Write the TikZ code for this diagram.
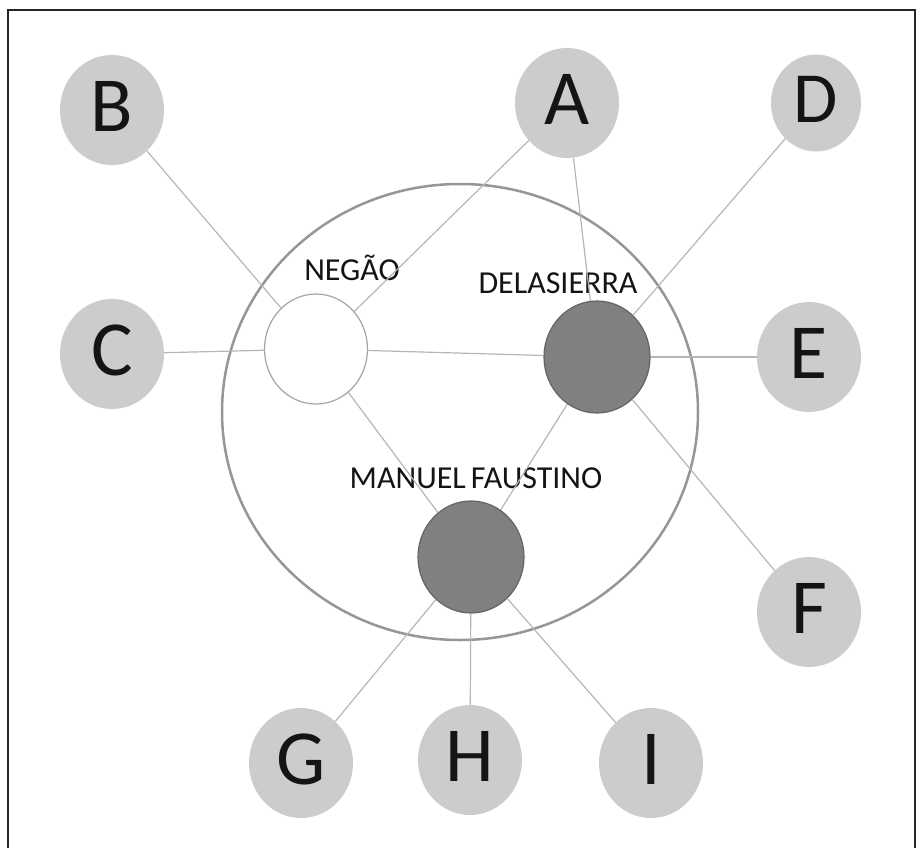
\documentclass[tikz,border=0pt]{standalone}
\usepackage{fontspec}
\setmainfont{Carlito}
\usetikzlibrary{shapes.geometric}
\definecolor{outerfill}{RGB}{204,204,204}
\definecolor{darkfill}{RGB}{128,128,128}
\definecolor{darkline}{RGB}{100,100,100}
\definecolor{ringline}{RGB}{150,150,150}
\definecolor{linkline}{RGB}{182,182,182}
\definecolor{whiteline}{RGB}{165,165,165}
\definecolor{txt}{RGB}{20,20,20}
\begin{document}
\begin{tikzpicture}[x=1pt,y=-1pt,
  outer/.style={ellipse, fill=outerfill, inner sep=0pt, minimum width=104pt, minimum height=110pt,
    text depth=8pt, text=txt, font=\fontsize{78}{80}\selectfont},
  central/.style={ellipse, fill=darkfill, draw=darkline, line width=1.2pt, inner sep=0pt,
    minimum width=106pt, minimum height=112pt},
  hub/.style={ellipse, fill=white, draw=whiteline, line width=1.2pt, inner sep=0pt,
    minimum width=103pt, minimum height=110pt},
  ring/.style={ellipse, draw=ringline, line width=2.5pt, inner sep=0pt,
    minimum width=476pt, minimum height=456pt},
  lbl/.style={font=\fontsize{32}{34}\selectfont, inner sep=0pt, text=txt},
  link/.style={draw=linkline, line width=1.2pt},
  frame/.style={draw=black!85, line width=1.5pt}]
\useasboundingbox (0,0) rectangle (921,848);
\draw[frame] (8,870) -- (8,10) -- (915,10) -- (915,870);
\node[ring] (ring) at (460,412) {};
\node[outer] (A) at (567,103) {A};
\node[outer] (B) at (112,110) {B};
\node[outer, minimum width=90pt, minimum height=97pt, font=\fontsize{72}{74}\selectfont] (D) at (816,103) {D};
\node[outer] (C) at (112,354) {C};
\node[outer] (E) at (809,357) {E};
\node[outer] (F) at (809,612) {F};
\node[outer] (G) at (301,763) {G};
\node[outer] (H) at (470,760) {H};
\node[outer] (I) at (651,763) {I};
\node[hub] (neg) at (316,349) {};
\node[central] (del) at (597,357) {};
\node[central] (man) at (471,557) {};
\node[lbl] (negl) at (352,268) {NEGÃO};
\node[lbl] (dell) at (558,283) {DELASIERRA};
\node[lbl] (manl) at (476,478) {MANUEL\hspace{5pt}FAUSTINO};
\draw[link] (B) -- (neg);
\draw[link] (A) -- (neg);
\draw[link] (C) -- (neg);
\draw[link] (neg) -- (del);
\draw[link] (neg) -- (man);
\draw[link] (A) -- (del);
\draw[link] (D) -- (del);
\draw[link] (E) -- (del);
\draw[link] (F) -- (del);
\draw[link] (del) -- (man);
\draw[link] (man) -- (G);
\draw[link] (man) -- (H);
\draw[link] (man) -- (I);
\end{tikzpicture}
\end{document}
